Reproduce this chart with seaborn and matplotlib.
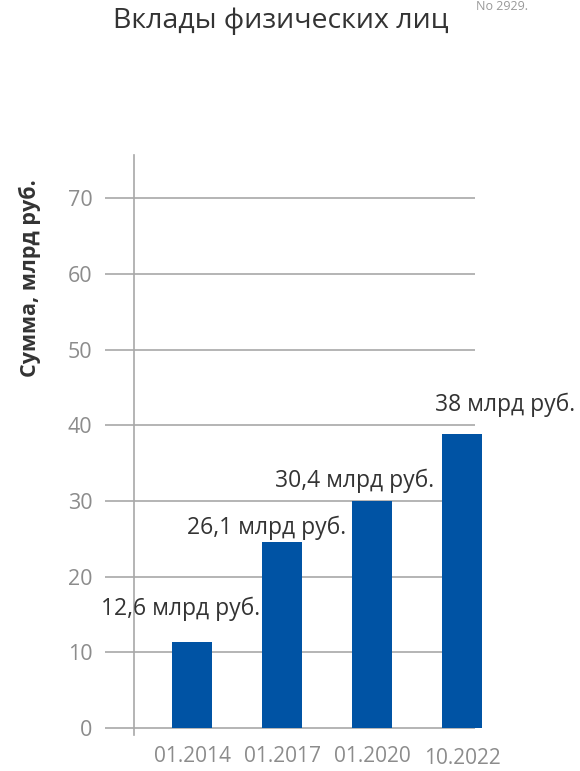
import matplotlib.pyplot as plt
import numpy as np
import pandas as pd
import seaborn as sns
from matplotlib.transforms import ScaledTranslation

# %% DATOS
periodos = ["01.2014", "01.2017", "01.2020", "10.2022"]
sumas = [11.3, 24.6, 30.0, 38.8]
etiquetas = ["12,6 млрд руб.", "26,1 млрд руб.", "30,4 млрд руб.", "38 млрд руб."]
ticks_y = [0, 10, 20, 30, 40, 50, 60, 70]

# desplazamiento de cada etiqueta respecto a su barra (x en categorias, y en unidades)
desp_etiquetas = [(-0.13, 4.5), (-0.17, 1.9), (-0.20, 2.6), (0.48, 3.9)]

df = pd.DataFrame({"periodo": periodos, "suma": sumas})

# %% GRAFICO
sns.set_style("white")
plt.rcParams['font.family'] = ['Open Sans', 'DejaVu Sans']

fig = plt.figure(figsize=(5.8, 7.71), dpi=100)
ax = fig.add_axes([105 / 580, 1 - 735 / 771, 385 / 580, 580 / 771])

sns.barplot(data=df, x="periodo", y="suma", color="#0053A4", width=0.44,
            saturation=1, linewidth=0, ax=ax, zorder=3)

ax.set_xlim(-0.967, 3.31)
ax.set_ylim(-0.925, 75.7)

# lineas de la grilla
ax.hlines(ticks_y, 0, 0.961, transform=ax.get_yaxis_transform(),
          color="#a8a8a8", linewidth=1.2, zorder=1)

for s in ["top", "right", "bottom"]:
    ax.spines[s].set_visible(False)
ax.spines["left"].set_position(("axes", 29 / 385))
ax.spines["left"].set_color("#a8a8a8")
ax.spines["left"].set_linewidth(1.2)
ax.spines["left"].set_zorder(2)

ax.set_yticks(ticks_y)
ax.tick_params(axis="y", length=0, pad=30, labelsize=15.5, labelcolor="#8c8c8c")
ax.tick_params(axis="x", length=0, pad=8, labelsize=15, labelcolor="#8c8c8c")
ax.set_xlabel("")
ax.set_ylabel("Сумма, млрд руб.", fontsize=15.5, fontweight="bold", color="#333333")
ax.yaxis.set_label_coords(-0.165, 0.788)

# ultima etiqueta un poco mas abajo
ult = ax.get_xticklabels()[-1]
ult.set_transform(ult.get_transform() + ScaledTranslation(0, -2 / 100, fig.dpi_scale_trans))

for i, (val, txt) in enumerate(zip(sumas, etiquetas)):
    dx, dy = desp_etiquetas[i]
    ax.text(i + dx, val + dy, txt, ha="center", va="center",
            fontsize=16.5, color="#333333")

fig.text(281 / 580, 1 - 21 / 771, "Вклады физических лиц", ha="center", va="center",
         fontsize=20.5, color="#333333")
fig.text(502 / 580, 1 - 7 / 771, "No 2929.", ha="center", va="center",
         fontsize=9, color="#999999")

fig.savefig("out.png", dpi=100)
